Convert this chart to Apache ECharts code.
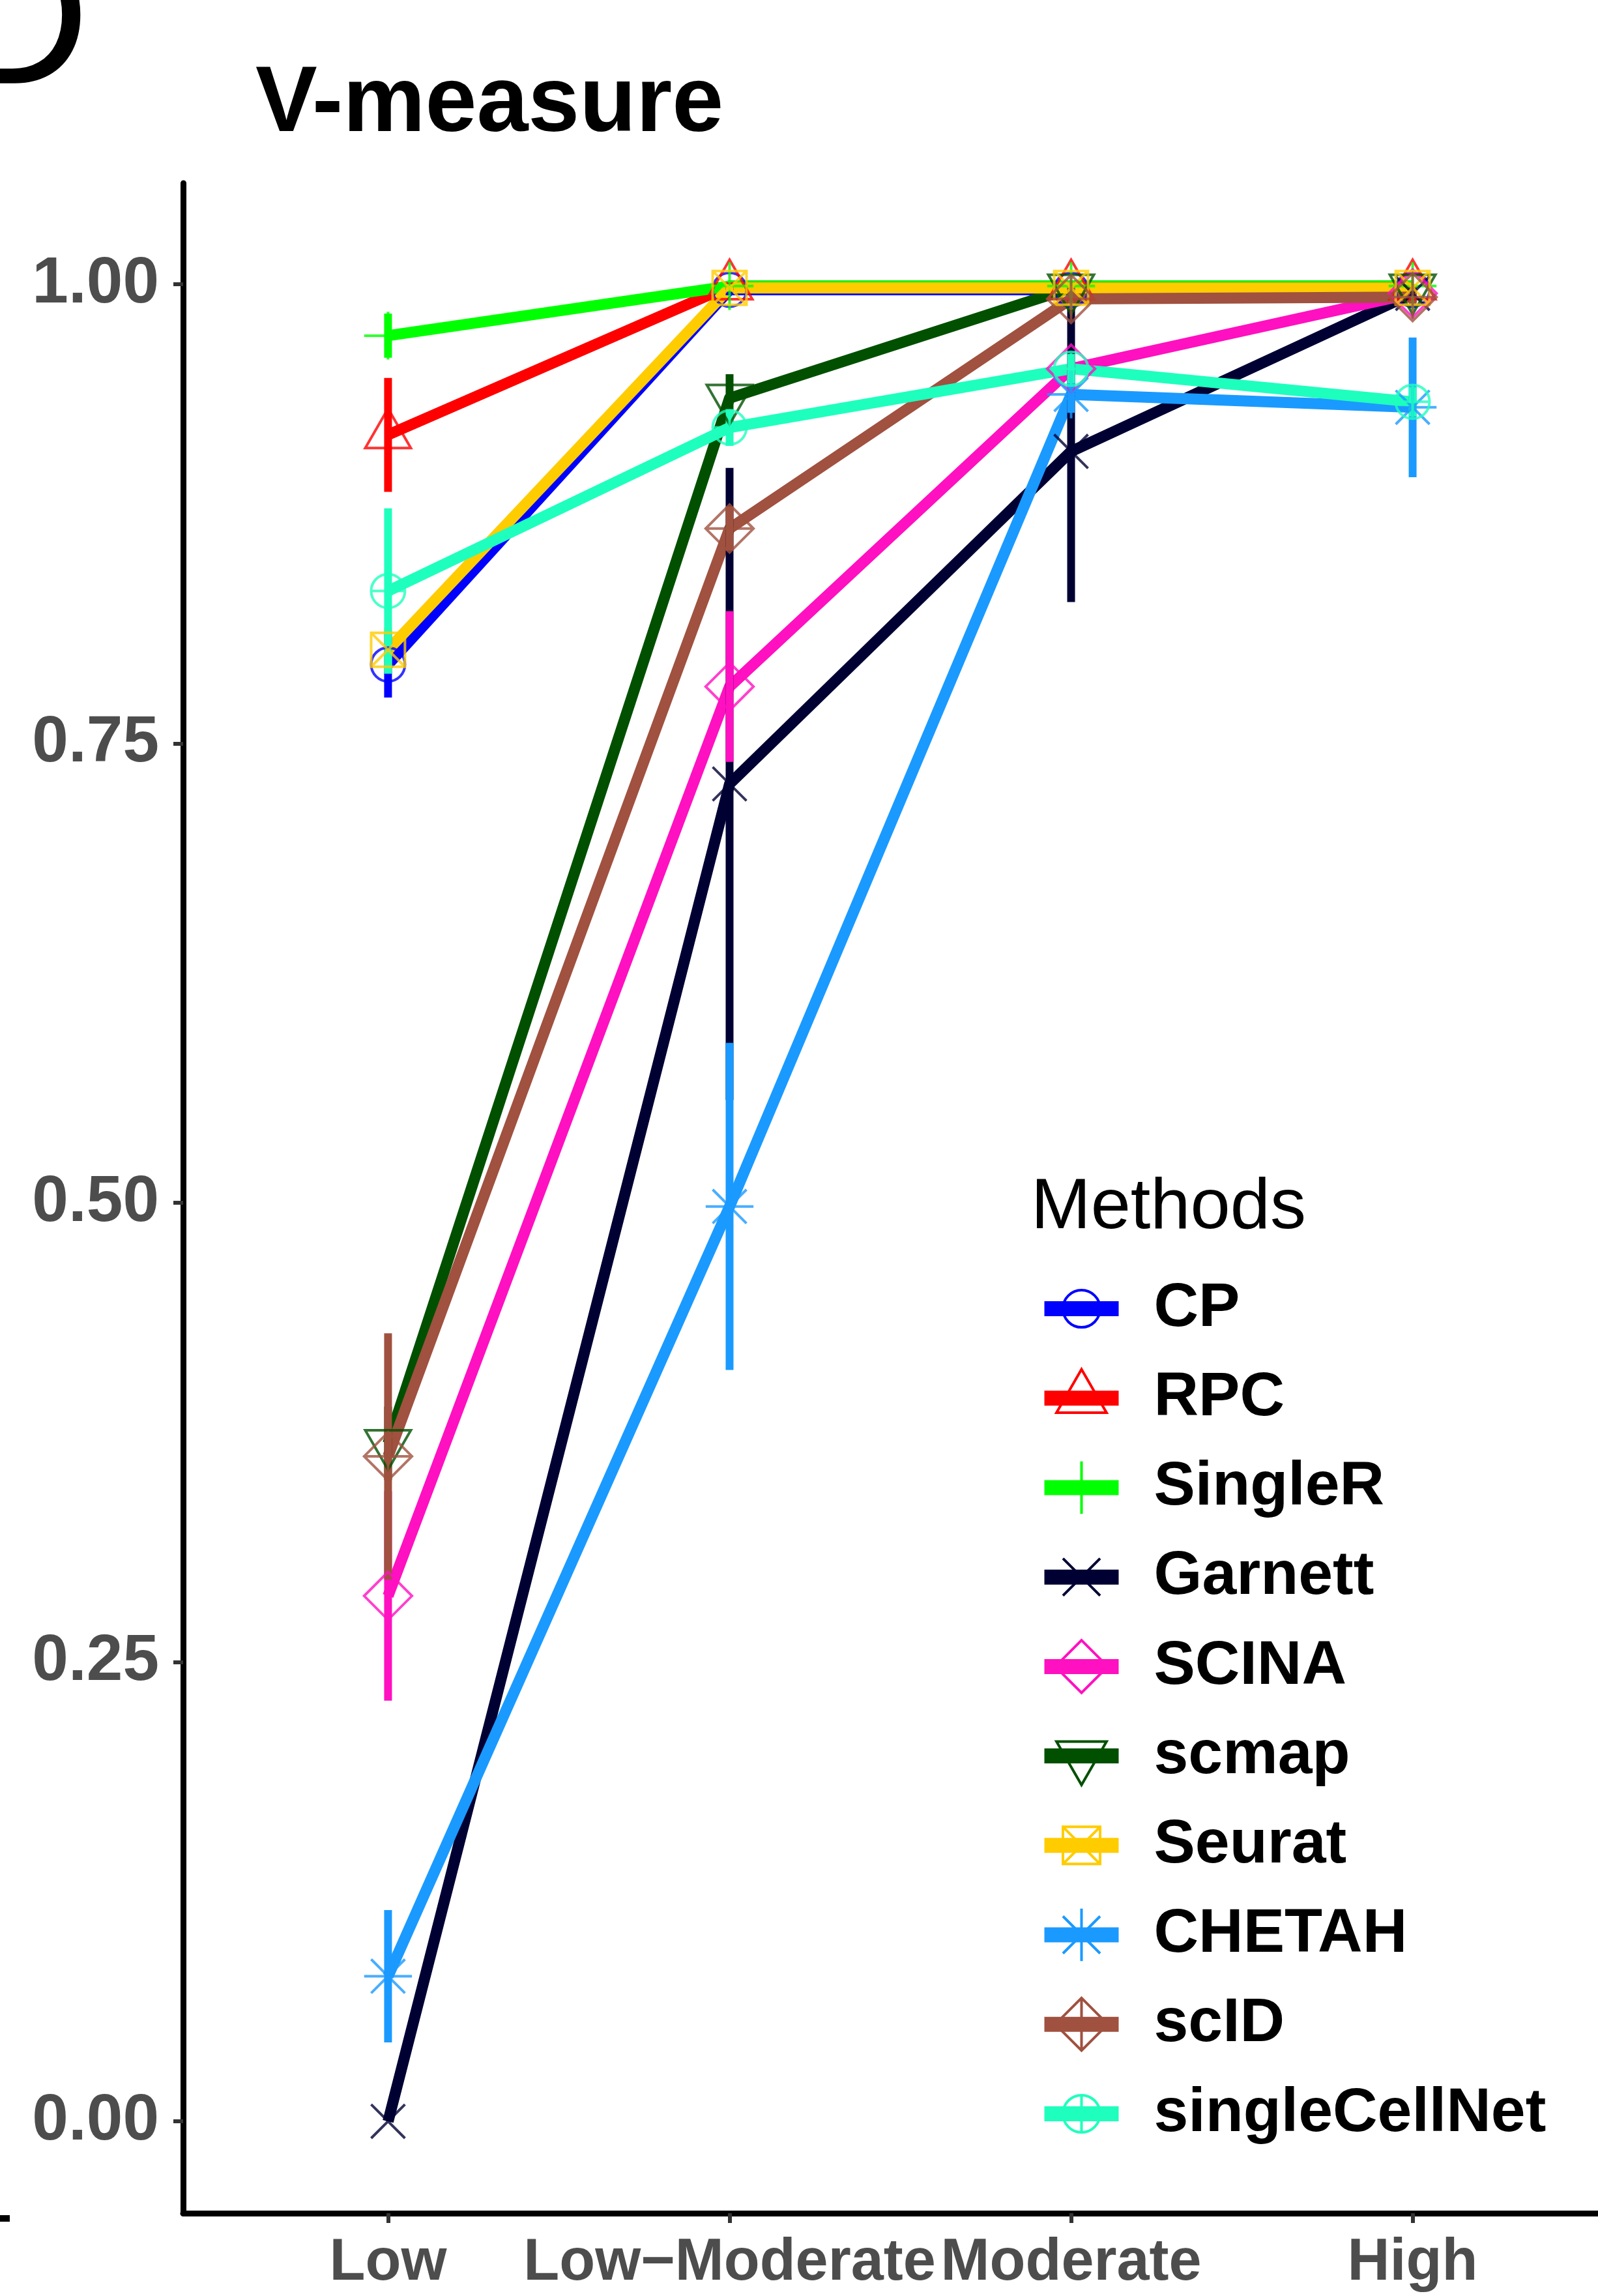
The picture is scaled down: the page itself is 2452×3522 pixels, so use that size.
<!DOCTYPE html>
<html>
<head>
<meta charset="utf-8">
<title>V-measure</title>
<script src="https://cdn.jsdelivr.net/npm/echarts@6/dist/echarts.min.js"></script>
<style>
  html, body { margin: 0; padding: 0; background: #ffffff; }
  #chart { width: 2452px; height: 3522px; }
</style>
</head>
<body>
<div id="chart"></div>
<script>
// Sequencing-depth levels on the x axis
const categories = ['Low', 'Low\u2212Moderate', 'Moderate', 'High'];
const yTicks = [0, 0.25, 0.5, 0.75, 1.0];

const methods = ['CP', 'RPC', 'SingleR', 'Garnett', 'SCINA', 'scmap', 'Seurat', 'CHETAH', 'scID', 'singleCellNet'];
const colors = ['#0000FF', '#FF0000', '#00FF00', '#000033', '#FF10C0', '#005000', '#FFCC00', '#1A9AFF', '#A0513F', '#1EFFBE'];

// Mean V-measure per level, and half-width of the error bar
const meanCP = [0.793, 0.997, 0.997, 0.997];
const errCP = [0.018, 0.003, 0.002, 0.002];
const meanRPC = [0.918, 0.999, 0.999, 0.999];
const errRPC = [0.031, 0.002, 0.001, 0.001];
const meanSingleR = [0.972, 0.999, 0.999, 0.999];
const errSingleR = [0.012, 0.001, 0.001, 0.001];
const meanGarnett = [0.000, 0.728, 0.909, 0.995];
const errGarnett = [0.000, 0.172, 0.082, 0.005];
const meanSCINA = [0.286, 0.781, 0.954, 0.995];
const errSCINA = [0.057, 0.041, 0.008, 0.004];
const meanScmap = [0.369, 0.938, 0.998, 0.998];
const errScmap = [0.020, 0.013, 0.002, 0.002];
const meanSeurat = [0.801, 0.998, 0.998, 0.998];
const errSeurat = [0.012, 0.002, 0.002, 0.002];
const meanCHETAH = [0.079, 0.498, 0.940, 0.933];
const errCHETAH = [0.036, 0.089, 0.010, 0.038];
const meanScID = [0.362, 0.867, 0.992, 0.993];
const errScID = [0.067, 0.012, 0.006, 0.006];
const meanSingleCellNet = [0.833, 0.922, 0.954, 0.936];
const errSingleCellNet = [0.045, 0.010, 0.008, 0.008];

const means = [meanCP, meanRPC, meanSingleR, meanGarnett, meanSCINA, meanScmap, meanSeurat, meanCHETAH, meanScID, meanSingleCellNet];
const errs = [errCP, errRPC, errSingleR, errGarnett, errSCINA, errScmap, errSeurat, errCHETAH, errScID, errSingleCellNet];

// R-style point shapes (pch 1..10), drawn in a fixed +-1.6 frame so all share one scale
const FRAME = 'M-1.6 -1.6 M1.6 1.6 ';
const RING = 'M1 0 A1 1 0 1 1 -1 0 A1 1 0 1 1 1 0 Z';
const PLUS = 'M-1.414 0 L1.414 0 M0 -1.414 L0 1.414';
const CROSS = 'M-1 -1 L1 1 M-1 1 L1 -1';
const DIAMOND = 'M0 -1.414 L1.414 0 L0 1.414 L-1.414 0 Z';
const shapes = [
  RING,
  'M0 -1.555 L1.347 0.778 L-1.347 0.778 Z',
  PLUS,
  CROSS,
  DIAMOND,
  'M0 1.555 L1.347 -0.778 L-1.347 -0.778 Z',
  'M-1 -1 L1 -1 L1 1 L-1 1 Z ' + CROSS,
  PLUS + ' ' + CROSS,
  DIAMOND + ' ' + PLUS,
  RING + ' M-1 0 L1 0 M0 -1 L0 1'
].map(p => 'path://' + FRAME + p);

const FONT = '"Liberation Sans", Arial, Helvetica, sans-serif';

const lineSeries = methods.map((m, i) => ({
  type: 'line',
  name: m,
  z: 2,
  silent: true,
  symbol: shapes[i],
  showSymbol: false,
  data: means[i].map((v, k) => [k, v]),
  itemStyle: { color: 'rgba(0,0,0,0)', borderColor: colors[i], borderWidth: 4 },
  lineStyle: { color: colors[i], width: 17, join: 'round' },
  emphasis: { disabled: true }
}));

const errorSeries = methods.map((m, i) => ({
  type: 'custom',
  name: m,
  z: 3,
  silent: true,
  data: means[i].map((v, k) => [k, v - errs[i][k], v + errs[i][k]]),
  encode: { x: 0, y: [1, 2] },
  renderItem: function (params, api) {
    const lo = api.coord([api.value(0), api.value(1)]);
    const hi = api.coord([api.value(0), api.value(2)]);
    return {
      type: 'line',
      shape: { x1: lo[0], y1: lo[1], x2: hi[0], y2: hi[1] },
      style: { stroke: colors[i], lineWidth: 12, lineCap: 'butt' }
    };
  }
}));

const pointSeries = methods.map((m, i) => ({
  type: 'scatter',
  name: m,
  z: 4,
  silent: true,
  symbol: shapes[i],
  symbolSize: 83,
  data: means[i].map((v, k) => [k, v]),
  itemStyle: { color: 'rgba(0,0,0,0)', borderColor: colors[i], borderWidth: 4 },
  emphasis: { disabled: true }
}));

const chart = echarts.init(document.getElementById('chart'), null, { renderer: 'canvas' });

chart.setOption({
  animation: false,
  backgroundColor: '#ffffff',
  title: [
    {
      text: 'V-measure', left: 392, top: 91, padding: 0,
      textStyle: { fontFamily: FONT, fontSize: 142, fontWeight: 'bold', color: '#000000' }
    },
    {
      text: 'Methods', left: 1582, top: 1799, padding: 0,
      textStyle: { fontFamily: FONT, fontSize: 110, fontWeight: 'normal', color: '#000000' }
    }
  ],
  grid: { left: 281, top: 281, width: 2201, height: 3114, containLabel: false, outerBoundsMode: 'none' },
  xAxis: {
    type: 'value',
    min: -0.6,
    max: 3.6,
    splitLine: { show: false },
    axisLine: { show: true, onZero: false, lineStyle: { color: '#000000', width: 9 } },
    axisTick: { show: true, customValues: [0, 1, 2, 3], length: 15, lineStyle: { color: '#333333', width: 6 } },
    axisLabel: {
      show: true,
      customValues: [0, 1, 2, 3],
      formatter: v => categories[Math.round(v)],
      margin: 32,
      fontFamily: FONT, fontSize: 90, fontWeight: 'bold', color: '#4D4D4D'
    }
  },
  yAxis: {
    type: 'value',
    min: -0.05,
    max: 1.055,
    splitLine: { show: false },
    axisLine: { show: true, onZero: false, lineStyle: { color: '#000000', width: 9 } },
    axisTick: { show: true, customValues: yTicks, length: 15, lineStyle: { color: '#333333', width: 6 } },
    axisLabel: {
      show: true,
      customValues: yTicks,
      formatter: v => v.toFixed(2),
      margin: 37,
      fontFamily: FONT, fontSize: 100, fontWeight: 'bold', color: '#4D4D4D'
    }
  },
  legend: {
    orient: 'vertical',
    left: 1591,
    top: 1960,
    padding: 0,
    itemWidth: 114,
    itemHeight: 114,
    itemGap: 42,
    selectedMode: false,
    textStyle: { fontFamily: FONT, fontSize: 95, fontWeight: 'bold', color: '#000000', padding: [0, 0, 0, 49] },
    data: methods.map((m, i) => ({
      name: m,
      itemStyle: { color: 'rgba(0,0,0,0)', borderColor: colors[i], borderWidth: 4 },
      lineStyle: { color: colors[i], width: 23 }
    }))
  },
  graphic: [
    {
      type: 'text', x: -79, y: 45, silent: true,
      style: { text: 'D', fontFamily: FONT, fontSize: 300, fill: '#000000', align: 'left', verticalAlign: 'middle' }
    },
    {
      type: 'rect', silent: true,
      shape: { x: 0, y: 3398, width: 15, height: 10 },
      style: { fill: '#000000' }
    }
  ],
  series: [].concat(lineSeries, errorSeries, pointSeries)
});
</script>
</body>
</html>
